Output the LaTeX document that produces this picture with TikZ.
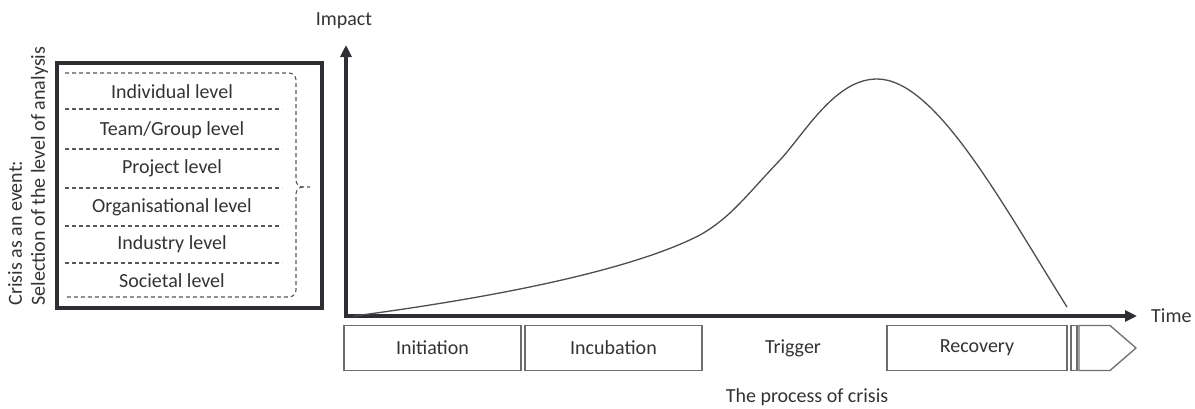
\documentclass[tikz,border=0pt]{standalone}
\usepackage{fontspec}
\setmainfont{Carlito}
\usetikzlibrary{arrows.meta}

\definecolor{ink}{HTML}{2E2E33}
\definecolor{txt}{HTML}{333333}

\begin{document}
\begin{tikzpicture}[
            x=1pt, y=-1pt,
            every node/.style={text=txt, font=\fontsize{20}{23}\selectfont},
            axis/.style={draw=ink, line width=3.5pt, {Triangle[length=12pt,width=11pt]}-{Triangle[length=12pt,width=11pt]}},
            sep/.style={draw=ink!80, line width=1.1pt, dash pattern=on 4pt off 3pt},
            phase/.style={draw=ink!70, line width=1.3pt, minimum height=45pt, inner sep=0pt},
            level/.style={inner sep=0pt}
            ]
        \useasboundingbox (0,0) rectangle (1195,408);

        % level of analysis
        \draw[draw=ink, line width=3.5pt] (57,63) rectangle (322,308);
        \node[rotate=90, align=left] (caption) at (28,176)
            {Crisis as an event:\\Selection of the level of analysis};
        \node[level] (indiv) at (172,92) {Individual level};
        \node[level] (team) at (172,130) {Team/Group level};
        \node[level] (proj) at (172,168) {Project level};
        \node[level] (org) at (172,207) {Organisational level};
        \node[level] (ind) at (172,244) {Industry level};
        \node[level] (soc) at (172,281) {Societal level};
        \foreach \y in {109,149,188,226,263}
            \draw[sep] (65,\y) -- (282,\y);
        \draw[sep] (65,73) -- (289,73) to[out=0,in=90] (296,80) -- (296,180)
            to[out=-90,in=180] (303,187) -- (310,187);
        \draw[sep] (303,187) to[out=180,in=90] (296,194) -- (296,290)
            to[out=-90,in=0] (289,297) -- (65,297);

        % axes
        \coordinate (O) at (346,316);
        \coordinate (ytip) at (346,45);
        \coordinate (xtip) at (1137,316);
        \draw[axis] (ytip) -- (O) -- (xtip);
        \node (impact) at (344,21) {Impact};
        \node[anchor=west, inner sep=0pt] (time) at (1151,316) {Time};

        % impact curve
        \coordinate (bend) at (700,235);
        \coordinate (rise) at (780,160);
        \coordinate (peak) at (877,79);
        \coordinate (stop) at (1067,307);
        \draw[draw=ink!85, line width=1.3pt] (354,316)
            .. controls (520,294) and (640,266) .. (bend)
            .. controls (730,218) and (745,197) .. (rise)
            .. controls (805,133) and (835,79) .. (peak)
            .. controls (935,79) and (1000,200) .. (stop);

        % phases
        \node[phase, minimum width=177pt] (init) at (432.5,348) {Initiation};
        \node[phase, minimum width=177pt] (incub) at (613.5,348) {Incubation};
        \node (trig) at (793,348) {Trigger};
        \node[phase, minimum width=180pt] (recov) at (977,348) {Recovery};
        \draw[draw=ink!70, line width=1.3pt] (1071,325.5) rectangle (1077,370.5);
        \draw[draw=ink!70, line width=1.3pt] (1079,325.5) -- (1110,325.5) -- (1136,348)
            -- (1110,370.5) -- (1079,370.5) -- cycle;
        \node (process) at (807,397) {The process of crisis};
    \end{tikzpicture}
\end{document}
